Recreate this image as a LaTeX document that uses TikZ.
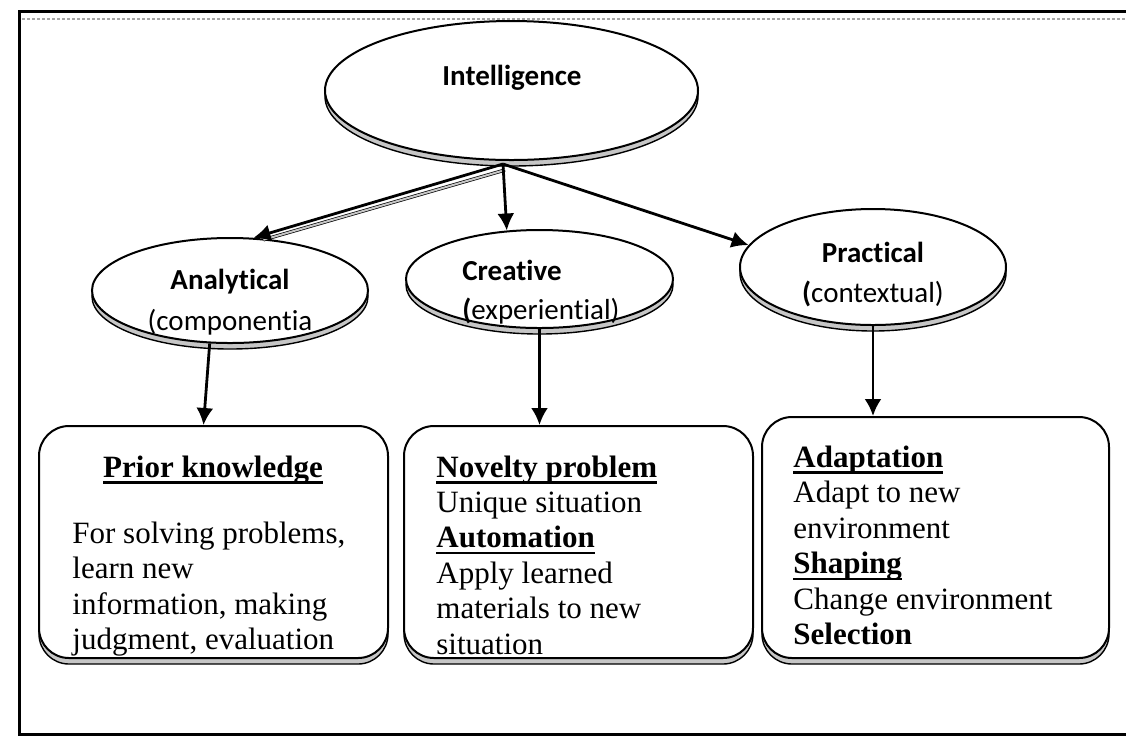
\documentclass[tikz,border=0pt]{standalone}
\usepackage{fontspec}
\setmainfont{Liberation Serif}
\newfontfamily\carl[Ligatures=NoCommon]{Carlito}
\usetikzlibrary{shapes.geometric,shadows,arrows.meta,calc}

% bold heading with a heavy underline
\newsavebox\ulbox
\newcommand{\thickul}[1]{\sbox\ulbox{#1}\rlap{\usebox\ulbox}\raisebox{-3.4pt}{\rule{\wd\ulbox}{1.4pt}}}

\tikzset{
  bandshadow/.style={general shadow={shadow yshift=-3pt, fill=gray!45, draw=black, line width=0.7pt}},
  ovalnode/.style={ellipse, draw=black, line width=1pt, fill=white, inner sep=0pt, bandshadow},
  card/.style={rectangle, rounded corners=15pt, draw=black, line width=1pt, fill=white, inner sep=0pt, bandshadow},
  ovaltitle/.style={font=\carl\bfseries\fontsize{14.5}{16}\selectfont, anchor=base, inner sep=0pt},
  ovalsub/.style={font=\carl\fontsize{14.5}{16}\selectfont, anchor=base, inner sep=0pt},
  cardtext/.style={font=\fontsize{15.5}{17.75}\selectfont, anchor=base west, inner sep=0pt},
  arr/.style={-{Latex[length=8.5pt,width=8.5pt]}, line width=1.4pt},
  arrshade/.style={draw=black, line width=0.35pt, double=gray!45, double distance=1pt},
}

\begin{document}
\begin{tikzpicture}[x=0.5pt, y=-0.5pt]
\useasboundingbox (0,0) rectangle (1126,736);

% page frame, open on the right
\coordinate (ftr) at (1126,11);
\coordinate (ftl) at (19,11);
\coordinate (fbl) at (19,734);
\coordinate (fbr) at (1126,734);
\draw[line width=1.5pt] (ftr) -- (ftl) -- (fbl) -- (fbr);
\coordinate (dl) at (22,19);
\coordinate (dr) at (1126,19);
\draw[gray!70, line width=1pt, dash pattern=on 1.5pt off 1pt] (dl) -- (dr);

% ovals
\node[ovalnode, minimum width=186.5pt, minimum height=69.5pt] (int) at (511.5,90.5) {};
\node[ovalnode, minimum width=138pt, minimum height=52.5pt] (ana) at (230,290.5) {};
\node[ovalnode, minimum width=133.5pt, minimum height=49pt] (cre) at (539.5,279) {};
\node[ovalnode, minimum width=133pt, minimum height=58pt] (pra) at (873,267) {};

% rounded boxes
\node[card, minimum width=174.5pt, minimum height=116pt] (kb) at (213.5,542) {};
\node[card, minimum width=174.5pt, minimum height=116pt] (nb) at (578.5,542) {};
\node[card, minimum width=173.5pt, minimum height=120.5pt] (sb) at (935.5,537.5) {};

% oval labels
\node[ovaltitle] (tint) at (512,85) {Intelligence};
\node[ovaltitle] (tana) at (230,289) {Analytical};
\node[ovalsub] (sana) at (230,330) {(componentia};
\node[ovaltitle, anchor=base west] (tcre) at (462,280) {Creative};
\node[ovalsub, anchor=base west] (scre) at (462,319) {\textbf{(}experiential)};
\node[ovaltitle] (tpra) at (873,262) {Practical};
\node[ovalsub] (spra) at (873,302) {\textbf{(}contextual)};

% box texts
\node[cardtext, anchor=base] (k0) at (213,477) {\bfseries\thickul{Prior knowledge}};
\node[cardtext] (k1) at (72,543) {For solving problems,};
\node[cardtext] (k2) at (72,578.5) {learn new};
\node[cardtext] (k3) at (72,614) {information, making};
\node[cardtext] (k4) at (72,649.5) {judgment, evaluation};

\node[cardtext] (n0) at (436,477) {\bfseries\thickul{Novelty problem}};
\node[cardtext] (n1) at (436,512) {Unique situation};
\node[cardtext] (n2) at (436,547.5) {\bfseries\thickul{Automation}};
\node[cardtext] (n3) at (436,583) {Apply learned};
\node[cardtext] (n4) at (436,618.5) {materials to new};
\node[cardtext] (n5) at (436,654) {situation};

\node[cardtext] (s0) at (793,467) {\bfseries\thickul{Adaptation}};
\node[cardtext] (s1) at (793,502.5) {Adapt to new};
\node[cardtext] (s2) at (793,538) {environment};
\node[cardtext] (s3) at (793,573.5) {\bfseries\thickul{Shaping}};
\node[cardtext] (s4) at (793,609) {Change environment};
\node[cardtext] (s5) at (793,644.5) {\bfseries Selection};

% connectors
\coordinate (hub) at ($(int.south)+(-8.5,3)$);
\draw[arrshade] ($(hub)+(2,6)$) -- ($(ana.66)+(10,2)$);
\draw[arr] (hub) -- (ana.66);
\draw[arr] (hub) -- (cre.124);
\draw[arr] (hub) -- (pra.170);

\draw[arr] (ana.-111) -- ($(kb.north)+(-10,0)$);
\draw[arr] (cre.south) -- (cre.south |- nb.north);
\draw[arr] (pra.south) -- (pra.south |- sb.north);
\end{tikzpicture}
\end{document}
